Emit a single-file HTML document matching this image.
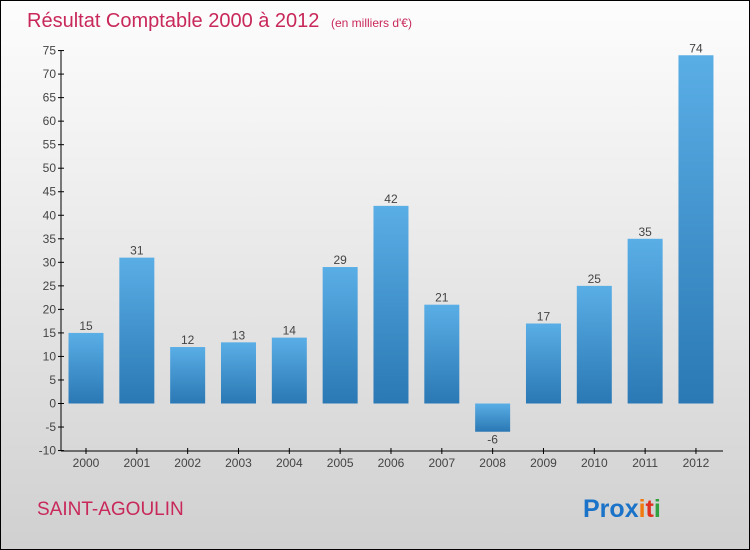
<!DOCTYPE html>
<html><head><meta charset="utf-8"><style>
body{margin:0}
#c{position:relative;width:748px;height:548px;border:1px solid #000;background:linear-gradient(#fdfdfd,#f0f0f0 30%,#d0d0d0);font-family:"Liberation Sans",sans-serif;overflow:hidden}
</style></head><body>
<div id="c">
<svg id="s" width="748" height="548" style="position:absolute;left:0;top:0">
<defs><linearGradient id="g" x1="0" y1="0" x2="0" y2="1"><stop offset="0" stop-color="#5aaee6"/><stop offset="1" stop-color="#2a78b4"/></linearGradient></defs>
<text x="26" y="26" font-size="20" fill="#c8285a">Résultat Comptable 2000 à 2012 <tspan font-size="12" dx="6">(en milliers d'€)</tspan></text>
<text x="36" y="514" font-size="19" fill="#c8285a">SAINT-AGOULIN</text>
<text x="582" y="516" font-size="25" font-weight="bold"><tspan fill="#1a73c8">Pro</tspan><tspan fill="#1a73c8">x</tspan><tspan fill="#f07a10">i</tspan><tspan fill="#e03020">t</tspan><tspan fill="#30a040">i</tspan></text>
<g id="plot"></g>
</svg>
</div>
<script>
const categories=["2000","2001","2002","2003","2004","2005","2006","2007","2008","2009","2010","2011","2012"];
const values=[15,31,12,13,14,29,42,21,-6,17,25,35,74];
const ticks=[-10,-5,0,5,10,15,20,25,30,35,40,45,50,55,60,65,70,75];
const NS="http://www.w3.org/2000/svg";
const g=document.getElementById("plot");
const y=v=>402.5-(v)*(400/85);
const x=i=>85+i*50.83;
function mk(t,a){const e=document.createElementNS(NS,t);for(const k in a)e.setAttribute(k,a[k]);g.appendChild(e);return e;}
let ax=mk("line",{x1:60,y1:y(75),x2:60,y2:450,stroke:"#000"});


let bx=mk("line",{x1:60,y1:450,x2:722,y2:450,stroke:"#000"});


ticks.forEach(t=>{
 const l=mk("line",{x1:57,y1:y(t),x2:63,y2:y(t),stroke:"#000"});
 
 
 const tx=mk("text",{x:55,y:y(t)+4,"font-size":12,"text-anchor":"end",fill:"#444"});
 tx.textContent=t;
 
 
});
categories.forEach((c,i)=>{
 const v=values[i],cx=x(i);
 const top=Math.min(y(v),y(0)),h=Math.abs(y(v)-y(0));
 const r=mk("rect",{x:cx-17.5,y:top,width:35,height:h,fill:"url(#g)"});
 
 
 const tk=mk("line",{x1:cx,y1:447,x2:cx,y2:453,stroke:"#000"});
 
 
 const xl=mk("text",{x:cx,y:466,"font-size":12,"text-anchor":"middle",fill:"#444"});
 xl.textContent=c;
 
 
 const vl=mk("text",{x:cx,y:v>=0?y(v)-3:y(v)+12,"font-size":12,"text-anchor":"middle",fill:"#444"});
 vl.textContent=v;
 
 
});
</script>
</body></html>
